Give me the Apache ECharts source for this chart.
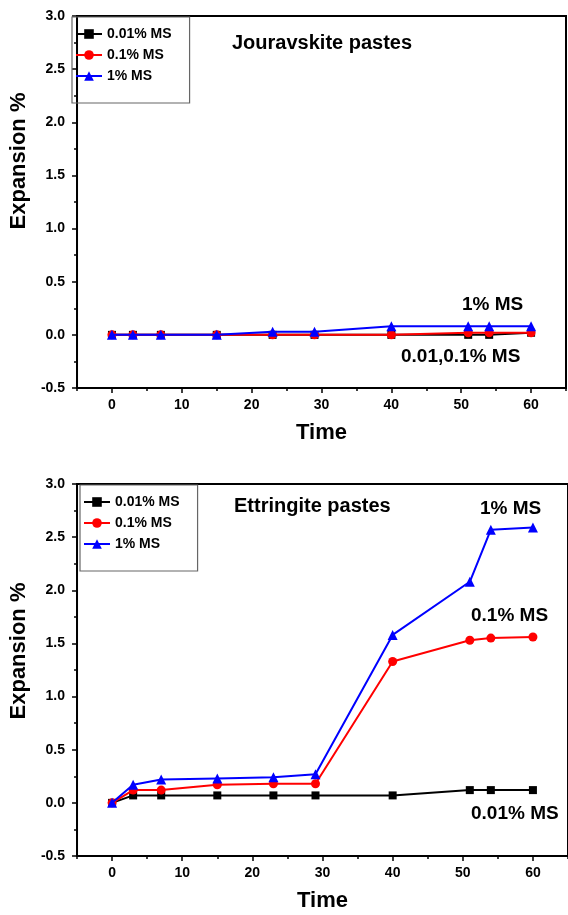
<!DOCTYPE html>
<html>
<head>
<meta charset="utf-8">
<script src="https://cdn.jsdelivr.net/npm/echarts@6/dist/echarts.min.js"></script>
<style>
  html, body { margin: 0; padding: 0; background: #fff; }
  #chart { width: 568px; height: 915px; }
</style>
</head>
<body>
<div id="chart"></div>
<script>
// time (days) shared by both panels
const times = [0, 3, 7, 15, 23, 29, 40, 51, 54, 60];
const seriesNames = ['0.01% MS', '0.1% MS', '1% MS'];

// Jouravskite pastes
const jouLow = [0, 0, 0, 0, 0, 0, 0, 0, 0, 0.02];
const jouMid = [0, 0, 0, 0, 0, 0, 0, 0.02, 0.02, 0.02];
const jouHigh = [0, 0, 0, 0, 0.03, 0.03, 0.08, 0.08, 0.08, 0.08];

// Ettringite pastes
const ettLow = [0, 0.07, 0.07, 0.07, 0.07, 0.07, 0.07, 0.12, 0.12, 0.12];
const ettMid = [0, 0.12, 0.12, 0.17, 0.18, 0.18, 1.33, 1.53, 1.55, 1.56];
const ettHigh = [0, 0.17, 0.22, 0.23, 0.24, 0.27, 1.58, 2.08, 2.57, 2.59];

const xMajor = [0, 10, 20, 30, 40, 50, 60];
const xMinor = [-5, 5, 15, 25, 35, 45, 55, 65];

const FONT = 'Liberation Sans, Arial, sans-serif';
const colors = ['#000000', '#ff0000', '#0000ff'];
const symbols = ['rect', 'circle', 'triangle'];
const symbolSizes = [8, 9, 10];

const pair = (ys) => times.map((t, i) => [t, ys[i]]);

function xAxes(gridIndex) {
  return [
    {
      type: 'value', gridIndex, min: -5, max: 65, position: 'bottom',
      name: 'Time', nameLocation: 'middle', nameGap: 34,
      nameTextStyle: { fontFamily: FONT, fontWeight: 'bold', fontSize: 22, color: '#000' },
      axisLine: { onZero: false, lineStyle: { color: '#000', width: 2 } },
      axisTick: { show: true, length: 5, lineStyle: { color: '#000', width: 1.5 }, customValues: xMajor },
      axisLabel: { customValues: xMajor, margin: 10, fontFamily: FONT, fontWeight: 'bold', fontSize: 14, color: '#000' },
      splitLine: { show: false }
    },
    {
      type: 'value', gridIndex, min: -5, max: 65, position: 'bottom',
      axisLine: { show: false, onZero: false },
      axisTick: { show: true, length: 3, lineStyle: { color: '#000', width: 1.5 }, customValues: xMinor },
      axisLabel: { show: false },
      splitLine: { show: false }
    }
  ];
}

function yAxis(gridIndex, nameGap, nameShift) {
  return {
    type: 'value', gridIndex, min: -0.5, max: 3, interval: 0.5, position: 'left',
    name: 'Expansion %', nameLocation: 'middle', nameGap,
    nameTextStyle: { fontFamily: FONT, fontWeight: 'bold', fontSize: 22, color: '#000',
      padding: [0, 0, 0, nameShift] },
    axisLine: { show: true, onZero: false, lineStyle: { color: '#000', width: 2 } },
    axisTick: { show: true, length: 5, lineStyle: { color: '#000', width: 1.5 } },
    minorTick: { show: true, splitNumber: 2, length: 3, lineStyle: { color: '#000', width: 1.5 } },
    axisLabel: { margin: 12, fontFamily: FONT, fontWeight: 'bold', fontSize: 14, color: '#000',
      formatter: (v) => v.toFixed(1) },
    splitLine: { show: false }
  };
}

function makeSeries(gridIdx, arrays) {
  return arrays.map((ys, i) => ({
    name: seriesNames[i],
    type: 'line',
    xAxisIndex: gridIdx * 2,
    yAxisIndex: gridIdx,
    data: pair(ys),
    color: colors[i],
    symbol: symbols[i],
    symbolSize: symbolSizes[i],
    lineStyle: { width: 2, color: colors[i] },
    itemStyle: { color: colors[i] },
    z: 3 + i
  }));
}

function legend(left, top) {
  return {
    data: seriesNames,
    orient: 'vertical',
    left, top,
    itemWidth: 26, itemHeight: 12, itemGap: 7,
    padding: [10, 18, 20, 3],
    borderColor: '#666', borderWidth: 1.2,
    textStyle: { fontFamily: FONT, fontWeight: 'bold', fontSize: 14, color: '#000' },
    selectedMode: false
  };
}

function note(text, x, y, size) {
  return {
    type: 'text', left: x, top: y,
    style: { text, fontFamily: FONT, fontWeight: 'bold', fontSize: size, fill: '#000' }
  };
}

const option = {
  backgroundColor: '#fff',
  animation: false,
  grid: [
    { left: 69, top: 16, width: 497, height: 372, show: true, borderColor: '#000', borderWidth: 2 },
    { left: 76, top: 484, width: 500, height: 372, show: true, borderColor: '#000', borderWidth: 2 }
  ],
  xAxis: [...xAxes(0), ...xAxes(1)],
  yAxis: [yAxis(0, 41, 82), yAxis(1, 40, 38)],
  legend: [legend(72, 17), legend(80, 485)],
  series: [
    ...makeSeries(0, [jouLow, jouMid, jouHigh]),
    ...makeSeries(1, [ettLow, ettMid, ettHigh])
  ],
  graphic: [
    note('Jouravskite pastes', 232, 33, 20),
    note('1% MS', 462, 295, 19),
    note('0.01,0.1% MS', 401, 347, 19),
    note('Ettringite pastes', 234, 496, 20),
    note('1% MS', 480, 499, 19),
    note('0.1% MS', 471, 606, 19),
    note('0.01% MS', 471, 804, 19)
  ]
};

const chart = echarts.init(document.getElementById('chart'), null, { renderer: 'canvas' });
chart.setOption(option);
</script>
</body>
</html>
